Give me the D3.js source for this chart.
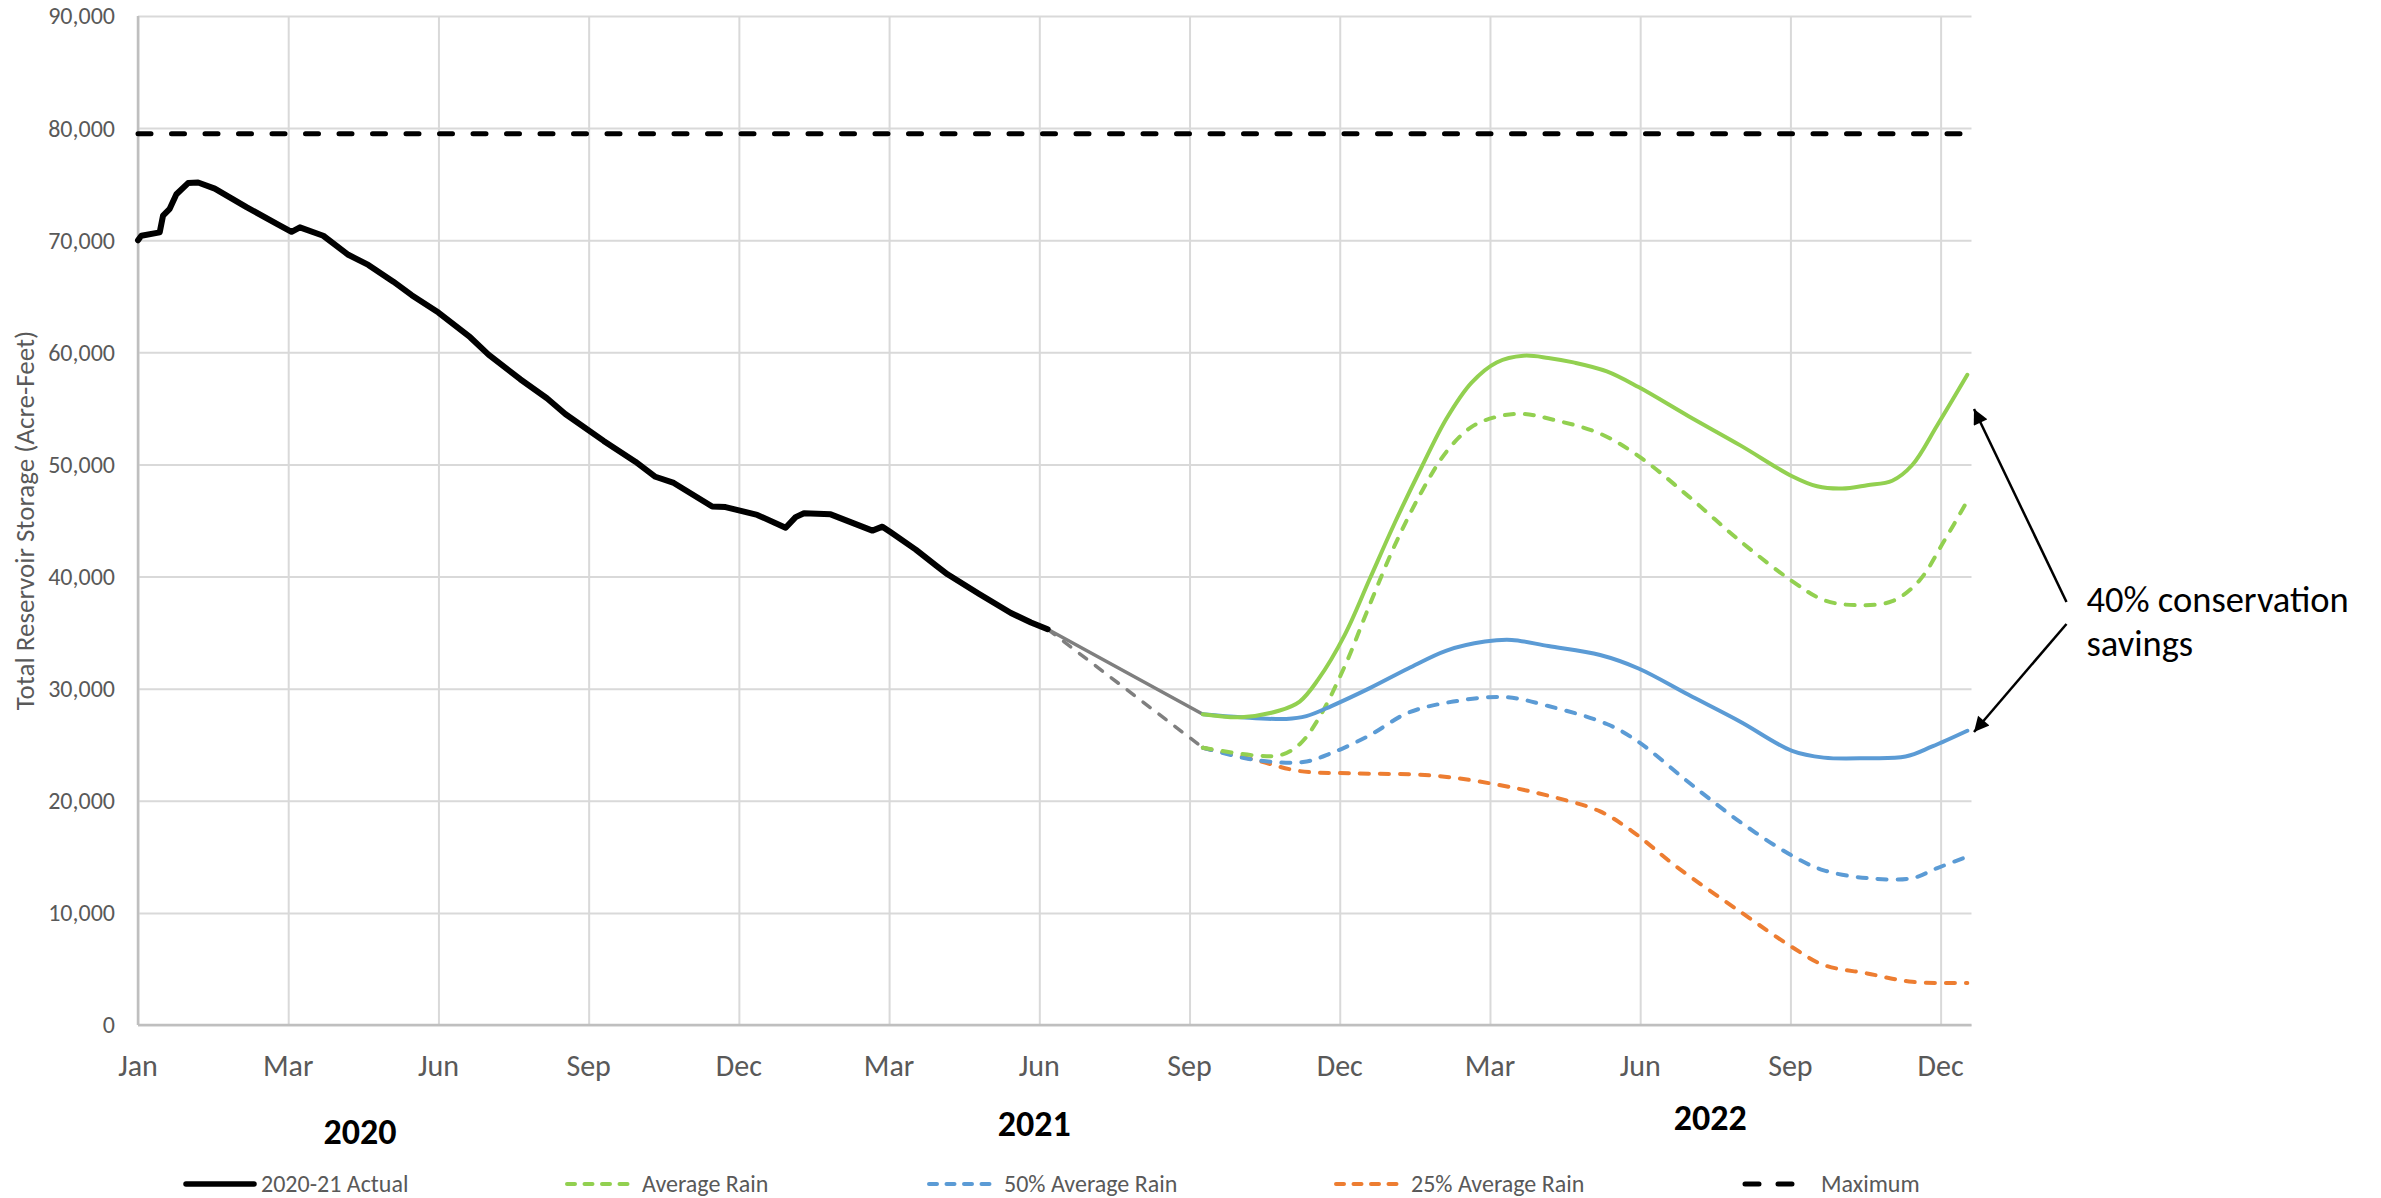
<!DOCTYPE html>
<html>
<head>
<meta charset="utf-8">
<script src="https://cdn.jsdelivr.net/npm/d3@7"></script>
<style>
  html, body { margin: 0; padding: 0; background: #ffffff; }
  svg { display: block; }
  text { font-family: Carlito, Calibri, Lato, sans-serif; }
</style>
</head>
<body>
<svg id="chart" width="2381" height="1198"></svg>
<script>
// ---------------- DATA ----------------
const yTicks = [0, 10000, 20000, 30000, 40000, 50000, 60000, 70000, 80000, 90000];
const xTickLabels = ["Jan", "Mar", "Jun", "Sep", "Dec", "Mar", "Jun", "Sep", "Dec", "Mar", "Jun", "Sep", "Dec"];
const xTickStart = "2020-01-01";
const xTickStepDays = 90;
const yearLabels = [
  { label: "2020", date: "2020-05-13" },
  { label: "2021", date: "2021-06-21" },
  { label: "2022", date: "2022-07-31" }
];
const maximumStorage = 79500;

const actual2020_21 = [
  ["2020-01-01", 70000], ["2020-01-03", 70400], ["2020-01-14", 70700], ["2020-01-16", 72200],
  ["2020-01-20", 72800], ["2020-01-24", 74100], ["2020-01-31", 75100], ["2020-02-06", 75150],
  ["2020-02-16", 74600], ["2020-03-06", 72950], ["2020-03-25", 71400], ["2020-04-02", 70750],
  ["2020-04-07", 71150], ["2020-04-21", 70400], ["2020-05-06", 68700], ["2020-05-18", 67800],
  ["2020-06-02", 66300], ["2020-06-13", 65100], ["2020-06-29", 63550], ["2020-07-18", 61350],
  ["2020-07-29", 59800], ["2020-08-17", 57600], ["2020-09-02", 55900], ["2020-09-13", 54500],
  ["2020-10-06", 52100], ["2020-10-25", 50250], ["2020-11-06", 48900], ["2020-11-17", 48350],
  ["2020-12-10", 46250], ["2020-12-18", 46200], ["2021-01-06", 45500], ["2021-01-23", 44350],
  ["2021-01-29", 45300], ["2021-02-03", 45650], ["2021-02-19", 45550], ["2021-03-16", 44100],
  ["2021-03-22", 44450], ["2021-03-27", 43950], ["2021-04-11", 42400], ["2021-04-23", 41000],
  ["2021-04-30", 40200], ["2021-05-19", 38450], ["2021-06-07", 36750], ["2021-06-19", 35900],
  ["2021-06-29", 35300]
];
// bridge from last actual to start of projections (grey)
const bridgeConservation = [["2021-06-29", 35300], ["2021-09-30", 27720]];
const bridgeNoConservation = [["2021-06-29", 35300], ["2021-09-30", 24730]];

// 40% conservation savings (solid)
const avgRainConservation = [
  ["2021-09-30", 27720], ["2021-10-23", 27450], ["2021-11-15", 28050], ["2021-11-27", 28850],
  ["2021-12-08", 30800], ["2021-12-24", 34800], ["2022-01-08", 39800], ["2022-01-23", 44800],
  ["2022-02-08", 49750], ["2022-02-23", 54100], ["2022-03-10", 57300], ["2022-03-25", 59100],
  ["2022-04-10", 59700], ["2022-04-25", 59500], ["2022-05-10", 59100], ["2022-05-30", 58300],
  ["2022-06-18", 56900], ["2022-07-18", 54300], ["2022-08-18", 51700], ["2022-09-18", 48950],
  ["2022-10-03", 48050], ["2022-10-18", 47850], ["2022-11-02", 48150], ["2022-11-17", 48550],
  ["2022-11-29", 49950], ["2022-12-14", 53500], ["2023-01-01", 58000]
];
const halfRainConservation = [
  ["2021-09-30", 27720], ["2021-10-23", 27450], ["2021-11-19", 27300], ["2021-12-01", 27550],
  ["2021-12-16", 28450], ["2022-01-08", 30050], ["2022-01-31", 31800], ["2022-02-23", 33400],
  ["2022-03-18", 34200], ["2022-04-03", 34350], ["2022-04-25", 33800], ["2022-05-26", 33000],
  ["2022-06-18", 31800], ["2022-07-18", 29450], ["2022-08-18", 27050], ["2022-09-18", 24450],
  ["2022-10-07", 23850], ["2022-11-02", 23800], ["2022-11-25", 23950], ["2022-12-11", 24850],
  ["2023-01-01", 26250]
];
// legend series (dashed)
const averageRain = [
  ["2021-09-30", 24730], ["2021-10-31", 24050], ["2021-11-16", 24100], ["2021-11-27", 25050],
  ["2021-12-08", 27250], ["2021-12-24", 32000], ["2022-01-08", 37500], ["2022-01-23", 42800],
  ["2022-02-08", 47550], ["2022-02-23", 51150], ["2022-03-10", 53350], ["2022-03-25", 54250],
  ["2022-04-10", 54500], ["2022-04-29", 53950], ["2022-05-26", 52750], ["2022-06-18", 50750],
  ["2022-07-18", 47150], ["2022-08-18", 43150], ["2022-09-18", 39600], ["2022-10-07", 37900],
  ["2022-10-26", 37450], ["2022-11-17", 37800], ["2022-12-03", 39600], ["2022-12-18", 43150],
  ["2023-01-01", 46750]
];
const halfAverageRain = [
  ["2021-09-30", 24730], ["2021-10-31", 23650], ["2021-11-29", 23450], ["2021-12-16", 24250],
  ["2022-01-08", 25850], ["2022-01-31", 27850], ["2022-02-27", 28850], ["2022-03-30", 29250],
  ["2022-04-25", 28450], ["2022-05-30", 26850], ["2022-06-18", 25250], ["2022-07-18", 21650],
  ["2022-08-18", 18100], ["2022-09-18", 15100], ["2022-10-07", 13800], ["2022-11-02", 13100],
  ["2022-11-29", 13100], ["2022-12-14", 14000], ["2022-12-30", 14900]
];
const quarterAverageRain = [
  ["2021-09-30", 24730], ["2021-10-31", 23650], ["2021-11-27", 22650], ["2021-12-28", 22450],
  ["2022-02-15", 22250], ["2022-03-25", 21450], ["2022-04-25", 20450], ["2022-05-26", 19050],
  ["2022-06-14", 17300], ["2022-07-11", 14100], ["2022-08-18", 10100], ["2022-09-18", 6950],
  ["2022-10-07", 5350], ["2022-11-02", 4600], ["2022-11-29", 3850], ["2023-01-01", 3750]
];

const legendItems = [
  { label: "2020-21 Actual", color: "#000000", width: 5.5, dash: null },
  { label: "Average Rain", color: "#92d050", width: 4, dash: "8 9.5" },
  { label: "50% Average Rain", color: "#5b9bd5", width: 4, dash: "8 9.5" },
  { label: "25% Average Rain", color: "#ed7d31", width: 4, dash: "8 9.5" },
  { label: "Maximum", color: "#000000", width: 5, dash: "13 20" }
];
const annotationLines = ["40% conservation", "savings"];

// ---------------- CHART ----------------
const parse = d3.utcParse("%Y-%m-%d");
const svg = d3.select("#chart");
const pLeft = 138, pRight = 1971.5, pTop = 16, pBottom = 1025;

const x = d3.scaleUtc()
  .domain([parse("2020-01-01"), d3.utcHour.offset(parse("2023-01-03"), 12)])
  .range([pLeft, pRight]);
const y = d3.scaleLinear().domain([0, 90000]).range([pBottom, pTop]);

const tickDates = xTickLabels.map((_, i) => d3.utcDay.offset(parse(xTickStart), i * xTickStepDays));

// gridlines
const grid = svg.append("g");
grid.append("g")
  .attr("transform", `translate(${pLeft},0)`)
  .call(d3.axisLeft(y).tickValues(yTicks).tickSize(-(pRight - pLeft)).tickFormat(""))
  .call(g => g.select(".domain").remove())
  .call(g => g.selectAll("line").attr("stroke", "#d9d9d9").attr("stroke-width", 2));
grid.append("g")
  .attr("transform", `translate(0,${pBottom})`)
  .call(d3.axisBottom(x).tickValues(tickDates).tickSize(-(pBottom - pTop)).tickFormat(""))
  .call(g => g.select(".domain").remove())
  .call(g => g.selectAll("line").attr("stroke", "#d9d9d9").attr("stroke-width", 2));

// axis lines
svg.append("line").attr("x1", pLeft).attr("x2", pLeft).attr("y1", pTop).attr("y2", pBottom)
  .attr("stroke", "#bfbfbf").attr("stroke-width", 2.5);
svg.append("line").attr("x1", pLeft).attr("x2", pRight).attr("y1", pBottom).attr("y2", pBottom)
  .attr("stroke", "#bfbfbf").attr("stroke-width", 2.5);

// y tick labels
svg.append("g").selectAll("text").data(yTicks).join("text")
  .attr("x", pLeft - 23).attr("y", d => y(d)).attr("dy", "0.35em")
  .attr("text-anchor", "end").attr("fill", "#595959").attr("font-size", 24)
  .text(d => d3.format(",")(d));

// x tick labels
svg.append("g").selectAll("text").data(tickDates).join("text")
  .attr("x", d => x(d)).attr("y", 1076)
  .attr("text-anchor", "middle").attr("fill", "#595959").attr("font-size", 30)
  .text((d, i) => xTickLabels[i]);

// year labels
svg.append("g").selectAll("text").data(yearLabels).join("text")
  .attr("x", d => x(parse(d.date)))
  .attr("y", (d, i) => [1144, 1136, 1130][i])
  .attr("text-anchor", "middle").attr("fill", "#000").attr("font-weight", "bold").attr("font-size", 36)
  .text(d => d.label);

// y axis title
svg.append("text")
  .attr("transform", `translate(34,${(pTop + pBottom) / 2}) rotate(-90)`)
  .attr("text-anchor", "middle").attr("fill", "#595959").attr("font-size", 27)
  .text("Total Reservoir Storage (Acre-Feet)");

// lines
const line = d3.line().x(d => x(parse(d[0]))).y(d => y(d[1]));
const smooth = d3.line().x(d => x(parse(d[0]))).y(d => y(d[1])).curve(d3.curveCatmullRom.alpha(0.5));

function draw(data, gen, color, width, dash) {
  svg.append("path").datum(data).attr("d", gen)
    .attr("fill", "none").attr("stroke", color).attr("stroke-width", width)
    .attr("stroke-linejoin", "round").attr("stroke-linecap", "round")
    .attr("stroke-dasharray", dash);
}

// maximum
svg.append("path").datum([[parse("2020-01-01"), maximumStorage], [x.domain()[1], maximumStorage]])
  .attr("d", d3.line().x(d => x(d[0])).y(d => y(d[1])))
  .attr("fill", "none").attr("stroke", "#000").attr("stroke-width", 5)
  .attr("stroke-dasharray", "13 20.5").attr("stroke-linecap", "round");

draw(bridgeNoConservation, line, "#7f7f7f", 3.5, "9 11");
draw(bridgeConservation, line, "#7f7f7f", 3.5, null);
draw(quarterAverageRain, smooth, "#ed7d31", 4, "9 11");
draw(halfAverageRain, smooth, "#5b9bd5", 4, "9 11");
draw(averageRain, smooth, "#92d050", 4, "9 11");
draw(halfRainConservation, smooth, "#5b9bd5", 4, null);
draw(avgRainConservation, smooth, "#92d050", 4, null);
draw(actual2020_21, line, "#000000", 6, null);

// legend
const legendX = [184, 565, 927, 1334, 1743];
const legend = svg.append("g");
legendItems.forEach((it, i) => {
  const g = legend.append("g").attr("transform", `translate(${legendX[i]},1184)`);
  if (it.label === "Maximum") {
    g.append("line").attr("x1", 2).attr("x2", 49).attr("y1", 0).attr("y2", 0)
      .attr("stroke", it.color).attr("stroke-width", it.width)
      .attr("stroke-linecap", "round").attr("stroke-dasharray", "14 19");
    g.append("text").attr("x", 78).attr("y", 0).attr("dy", "0.35em")
      .attr("fill", "#595959").attr("font-size", 24).text(it.label);
  } else {
    g.append("line").attr("x1", 2).attr("x2", 70).attr("y1", 0).attr("y2", 0)
      .attr("stroke", it.color).attr("stroke-width", it.width)
      .attr("stroke-linecap", "round").attr("stroke-dasharray", it.dash);
    g.append("text").attr("x", 77).attr("y", 0).attr("dy", "0.35em")
      .attr("fill", "#595959").attr("font-size", 24).text(it.label);
  }
});

// annotation
const defs = svg.append("defs");
defs.append("marker").attr("id", "arrow").attr("viewBox", "0 0 10 10")
  .attr("refX", 10).attr("refY", 5).attr("markerUnits", "userSpaceOnUse")
  .attr("markerWidth", 17).attr("markerHeight", 15).attr("orient", "auto")
  .append("path").attr("d", "M0,0 L10,5 L0,10 Z").attr("fill", "#000");

const ann = svg.append("g");
const annX = pRight + 115;
ann.selectAll("text").data(annotationLines).join("text")
  .attr("x", annX).attr("y", (d, i) => 612 + i * 44)
  .attr("fill", "#000").attr("font-size", 36.5).text(d => d);
ann.append("line").attr("x1", pRight + 95).attr("y1", 602).attr("x2", pRight + 2.5).attr("y2", 409)
  .attr("stroke", "#000").attr("stroke-width", 2.5).attr("marker-end", "url(#arrow)");
ann.append("line").attr("x1", pRight + 95).attr("y1", 624).attr("x2", pRight + 2.5).attr("y2", 732)
  .attr("stroke", "#000").attr("stroke-width", 2.5).attr("marker-end", "url(#arrow)");
</script>
</body>
</html>
